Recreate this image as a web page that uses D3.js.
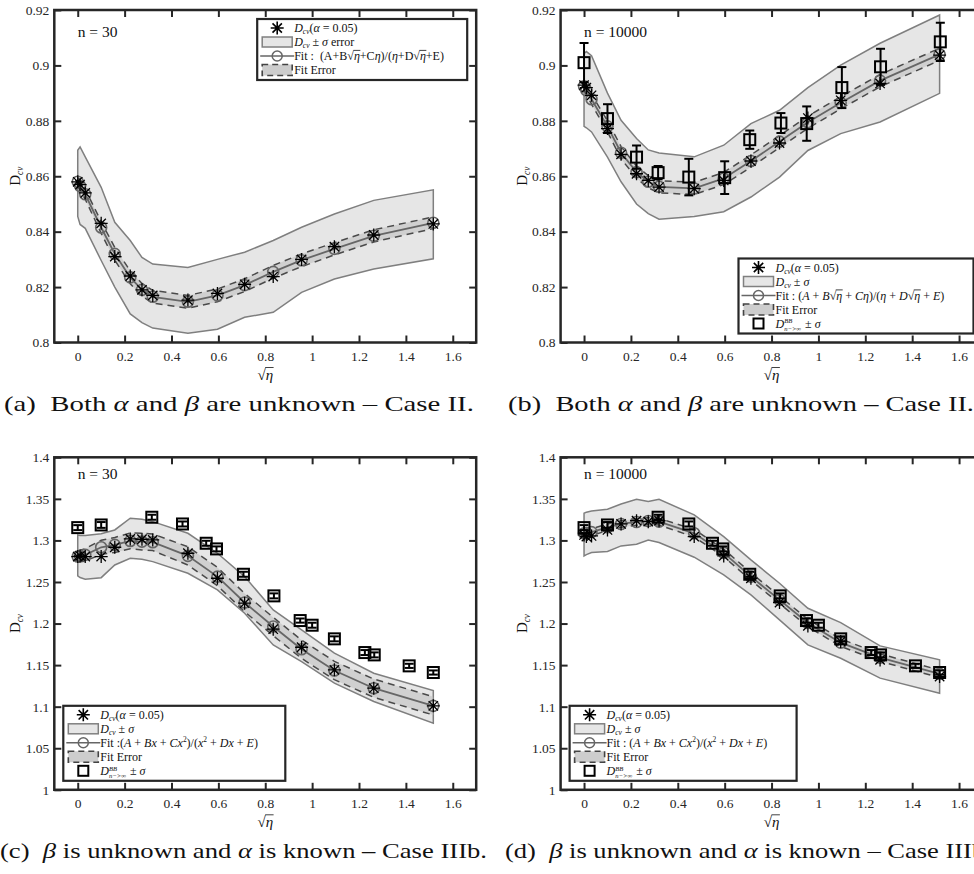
<!DOCTYPE html>
<html>
<head>
<meta charset="utf-8">
<script src="https://cdn.jsdelivr.net/npm/d3@7"></script>
<style>
  body { margin: 0; background: #fff; }
  svg { display: block; }
  text { font-family: "Liberation Serif", "Times New Roman", serif; white-space: pre; fill: #111; }
</style>
</head>
<body>
<div id="wrapper"></div>
<script>
// sqrt(eta) positions of the D_cv points and of the fit
const sqrtEta = [0, 0.01, 0.032, 0.1, 0.158, 0.224, 0.274, 0.32, 0.47, 0.596, 0.712, 0.834, 0.955, 1.095, 1.263, 1.517]
const xTicks = [0, 0.2, 0.4, 0.6, 0.8, 1, 1.2, 1.4, 1.6]
const yTicksTop = [0.8, 0.82, 0.84, 0.86, 0.88, 0.9, 0.92]
const yTicksBottom = [1, 1.05, 1.1, 1.15, 1.2, 1.25, 1.3, 1.35, 1.4]

// (a) Case II, n = 30
const dcvA = [0.858, 0.857, 0.854, 0.843, 0.831, 0.824, 0.819, 0.817, 0.8153, 0.8177, 0.821, 0.8238, 0.830, 0.8346, 0.8388, 0.8428]
const fitA = [0.858, 0.8565, 0.8535, 0.8415, 0.832, 0.8235, 0.819, 0.8165, 0.8147, 0.817, 0.8207, 0.8255, 0.8297, 0.8338, 0.8385, 0.8432]
const fitErrA = [0.0015, 0.0016, 0.0018, 0.0021, 0.0023, 0.0023, 0.0023, 0.0023, 0.0023, 0.0023, 0.0023, 0.0023, 0.0023, 0.0022, 0.0022, 0.0021]
const bandLoA = [0.8455, 0.8426, 0.8412, 0.8296, 0.820, 0.8103, 0.8072, 0.8052, 0.8033, 0.8048, 0.8091, 0.8109, 0.8181, 0.8229, 0.8265, 0.8302]
const bandHiA = [0.8694, 0.8706, 0.867, 0.856, 0.8434, 0.8368, 0.8307, 0.8283, 0.8271, 0.830, 0.8326, 0.8368, 0.8416, 0.8464, 0.8513, 0.8551]

// (b) Case II, n = 10000
const dcvB = [0.8929, 0.892, 0.8892, 0.8772, 0.8679, 0.8609, 0.8585, 0.8561, 0.8555, 0.8585, 0.8655, 0.872, 0.881, 0.8874, 0.8935, 0.9037]
const fitB = [0.8925, 0.891, 0.8878, 0.878, 0.8685, 0.8615, 0.858, 0.8562, 0.8556, 0.8592, 0.8655, 0.8725, 0.8795, 0.8865, 0.8945, 0.904]
const fitErrB = [0.0015, 0.0016, 0.0018, 0.002, 0.0022, 0.0022, 0.0022, 0.0022, 0.0022, 0.0022, 0.0022, 0.0022, 0.0022, 0.0022, 0.0022, 0.0022]
const bandLoB = [0.878, 0.8775, 0.876, 0.8669, 0.858, 0.85, 0.8465, 0.8445, 0.8455, 0.8472, 0.8525, 0.8597, 0.8693, 0.8754, 0.8796, 0.8899]
const bandHiB = [0.9043, 0.905, 0.9035, 0.89, 0.8802, 0.8736, 0.8695, 0.8684, 0.867, 0.8712, 0.879, 0.8838, 0.892, 0.9001, 0.908, 0.9182]
const bbXB = [0, 0.1, 0.224, 0.316, 0.447, 0.6, 0.707, 0.84, 0.95, 1.1, 1.265, 1.52]
const bbYB = [0.901, 0.8808, 0.8669, 0.8613, 0.8597, 0.8595, 0.8732, 0.8792, 0.879, 0.892, 0.8995, 0.9085]
const bbSdB = [0.0071, 0.0052, 0.0042, 0.0024, 0.0066, 0.0059, 0.0033, 0.0036, 0.0062, 0.0074, 0.0065, 0.0069]

// (c) Case IIIb, n = 30
const dcvC = [1.2806, 1.2814, 1.2806, 1.2806, 1.2918, 1.3018, 1.3014, 1.3006, 1.2846, 1.2545, 1.2245, 1.1932, 1.1715, 1.1443, 1.1222, 1.101]
const fitC = [1.2806, 1.2812, 1.2826, 1.2918, 1.2946, 1.2994, 1.2986, 1.2978, 1.2814, 1.2565, 1.2253, 1.1964, 1.1691, 1.1435, 1.1222, 1.101]
const fitErrC = [0.007, 0.007, 0.0075, 0.0085, 0.009, 0.0095, 0.01, 0.01, 0.011, 0.011, 0.011, 0.011, 0.011, 0.011, 0.011, 0.011]
const bandLoC = [1.2573, 1.2553, 1.2533, 1.2552, 1.2705, 1.2786, 1.2774, 1.2745, 1.2605, 1.2405, 1.2124, 1.1743, 1.1543, 1.1283, 1.1062, 1.0802]
const bandHiC = [1.3066, 1.306, 1.3058, 1.308, 1.3126, 1.3267, 1.3255, 1.3226, 1.3086, 1.2846, 1.2565, 1.2164, 1.1924, 1.1643, 1.1403, 1.1194]

// (d) Case IIIb, n = 10000
const dcvD = [1.3066, 1.3046, 1.3054, 1.3126, 1.3198, 1.3238, 1.3226, 1.3238, 1.3046, 1.2814, 1.2545, 1.2253, 1.1972, 1.1784, 1.1563, 1.1363]
const fitD = [1.3086, 1.309, 1.31, 1.3158, 1.3198, 1.3222, 1.3234, 1.3226, 1.3086, 1.285, 1.2565, 1.2285, 1.2006, 1.177, 1.159, 1.1395]
const fitErrD = [0.004, 0.004, 0.004, 0.004, 0.004, 0.004, 0.004, 0.004, 0.0045, 0.0045, 0.0045, 0.0045, 0.0045, 0.0045, 0.0045, 0.0045]
const bandLoD = [1.2814, 1.283, 1.2854, 1.2866, 1.2934, 1.2954, 1.3006, 1.2974, 1.2798, 1.2585, 1.2345, 1.2044, 1.1743, 1.1583, 1.1343, 1.1162]
const bandHiD = [1.3327, 1.334, 1.3355, 1.3375, 1.3439, 1.3495, 1.3467, 1.3495, 1.3307, 1.3046, 1.2766, 1.2485, 1.2184, 1.2012, 1.1731, 1.1563]

// D^BB (n -> inf) used in (c) and (d)
const bbX = [0, 0.1, 0.316, 0.447, 0.548, 0.592, 0.707, 0.837, 0.949, 1.0, 1.095, 1.225, 1.265, 1.414, 1.517]
const bbY = [1.3154, 1.3186, 1.3279, 1.3198, 1.2966, 1.2898, 1.2593, 1.2333, 1.2036, 1.198, 1.1816, 1.1651, 1.1623, 1.1491, 1.1411]
const bbSd = [0.003, 0.0035, 0.003, 0.003, 0.003, 0.003, 0.003, 0.003, 0.0025, 0.003, 0.003, 0.003, 0.003, 0.0025, 0.0025]

// pedaços de texto "rico"
const T = t => ({ t })
const I = t => ({ t, it: true })
const S = t => ({ t, it: true, sub: true })
const P = t => ({ t, sup: true })
const RB = t => ({ t, it: true, bar: true })
const K = (a, b) => ({ stack: [a, b] })

const dcvLabel = [I("D"), S("cv"), T("("), I("α"), T(" = 0.05)")]
const bandLabelA = [I("D"), S("cv"), T(" ± "), I("σ"), T(" error")]
const bandLabel = [I("D"), S("cv"), T(" ± "), I("σ")]
const fitLabelA = [T("Fit :  (A+B"), T("√"), RB("η"), T("+C"), I("η"), T(")/("), I("η"), T("+D"), T("√"), RB("η"), T("+E)")]
const fitLabelB = [T("Fit : ("), I("A"), T(" + "), I("B"), T("√"), RB("η"), T(" + "), I("Cη"), T(")/("), I("η"), T(" + "), I("D"), T("√"), RB("η"), T(" + "), I("E"), T(")")]
const fitLabelC = [T("Fit :("), I("A"), T(" + "), I("Bx"), T(" + "), I("Cx"), P("2"), T(")/("), I("x"), P("2"), T(" + "), I("Dx"), T(" + "), I("E"), T(")")]
const fitLabelD = [T("Fit : ("), I("A"), T(" + "), I("Bx"), T(" + "), I("Cx"), P("2"), T(")/("), I("x"), P("2"), T(" + "), I("Dx"), T(" + "), I("E"), T(")")]
const fitErrLabel = [T("Fit Error")]
const bbLabel = [I("D"), K("BB", "n−>∞"), T(" ± "), I("σ")]

const capA = [T("(a)  Both "), I("α"), T(" and "), I("β"), T(" are unknown – Case II.")]
const capB = [T("(b)  Both "), I("α"), T(" and "), I("β"), T(" are unknown – Case II.")]
const capC = [T("(c)  "), I("β"), T(" is unknown and "), I("α"), T(" is known – Case IIIb.")]
const capD = [T("(d)  "), I("β"), T(" is unknown and "), I("α"), T(" is known – Case IIIb.")]

const svg = d3.select("#wrapper").append("svg").attr("width", 974).attr("height", 874)

// escreve os pedaços um atrás do outro e devolve a largura total
function rich(g, runs, size) {
    let x = 0
    runs.forEach(r => {
        if (r.stack) {
            const fs = size * 0.55
            const a = g.append("text").attr("x", x).attr("y", -size * 0.35).attr("font-size", fs).attr("font-style", "italic").text(r.stack[0])
            const b = g.append("text").attr("x", x).attr("y", size * 0.3).attr("font-size", fs).attr("font-style", "italic").text(r.stack[1])
            x += Math.max(a.node().getComputedTextLength(), b.node().getComputedTextLength()) + 1
            return
        }
        const fs = (r.sub || r.sup) ? size * 0.62 : size
        const dy = r.sub ? size * 0.2 : r.sup ? -size * 0.4 : 0
        const t = g.append("text").attr("x", x).attr("y", dy).attr("font-size", fs)
            .attr("font-style", r.it ? "italic" : "normal").text(r.t)
        const w = t.node().getComputedTextLength()
        if (r.bar) {
            g.append("line").attr("x1", x - 0.5).attr("x2", x + w + 0.5)
                .attr("y1", -size * 0.8).attr("y2", -size * 0.8)
                .attr("stroke", "#111").attr("stroke-width", 0.8)
        }
        x += w
    })
    return x
}

function asterisk(r) {
    const d = r * 0.72
    return `M${-r},0L${r},0M0,${-r}L0,${r}M${-d},${-d}L${d},${d}M${-d},${d}L${d},${-d}`
}

function legendIcon(g, kind, cx, cy) {
    if (kind === "star") {
        g.append("path").attr("d", asterisk(6.5)).attr("transform", `translate(${cx},${cy})`)
            .attr("stroke", "#000").attr("stroke-width", 1.6)
    } else if (kind === "band") {
        g.append("rect").attr("x", cx - 15).attr("y", cy - 5).attr("width", 30).attr("height", 10)
            .attr("fill", "#e6e6e6").attr("stroke", "#808080").attr("stroke-width", 1.5)
    } else if (kind === "fit") {
        g.append("line").attr("x1", cx - 17).attr("x2", cx + 17).attr("y1", cy).attr("y2", cy)
            .attr("stroke", "#666").attr("stroke-width", 1.5)
        g.append("circle").attr("cx", cx).attr("cy", cy).attr("r", 5)
            .attr("fill", "none").attr("stroke", "#666").attr("stroke-width", 1.5)
    } else if (kind === "fitErr") {
        g.append("rect").attr("x", cx - 15).attr("y", cy - 5.5).attr("width", 30).attr("height", 11)
            .attr("fill", "#cdcdcd").attr("stroke", "#444").attr("stroke-width", 1.6).attr("stroke-dasharray", "6,4")
    } else if (kind === "square") {
        g.append("rect").attr("x", cx - 5).attr("y", cy - 5).attr("width", 10).attr("height", 10)
            .attr("fill", "none").attr("stroke", "#000").attr("stroke-width", 2)
    }
}

function drawPanel(p) {
    const width = 421.9, height = 332.5
    const x = d3.scaleLinear().domain([-0.1, 1.7]).range([p.left, p.left + width])
    const y = d3.scaleLinear().domain(p.yDomain).range([p.top + height, p.top])
    const bounds = svg.append("g")

    // faixa D_cv +- sigma
    const area = d3.area().x(d => x(d[0])).y0(d => y(d[1])).y1(d => y(d[2]))
    bounds.append("path").datum(d3.zip(sqrtEta, p.bandLo, p.bandHi)).attr("d", area)
        .attr("fill", "#e6e6e6").attr("stroke", "#7f7f7f").attr("stroke-width", 1.5)

    // erro do ajuste
    const lo = p.fit.map((v, i) => v - p.fitErr[i])
    const hi = p.fit.map((v, i) => v + p.fitErr[i])
    bounds.append("path").datum(d3.zip(sqrtEta, lo, hi)).attr("d", area)
        .attr("fill", "#bdbdbd").attr("fill-opacity", 0.55)
    const line = d3.line().x(d => x(d[0])).y(d => y(d[1]))
    ;[lo, hi].forEach(arr => {
        bounds.append("path").datum(d3.zip(sqrtEta, arr)).attr("d", line)
            .attr("fill", "none").attr("stroke", "#4a4a4a").attr("stroke-width", 1.5).attr("stroke-dasharray", "7,5")
    })

    // ajuste
    bounds.append("path").datum(d3.zip(sqrtEta, p.fit)).attr("d", line)
        .attr("fill", "none").attr("stroke", "#666").attr("stroke-width", 1.8)
    bounds.selectAll(null).data(d3.zip(sqrtEta, p.fit)).join("circle")
        .attr("cx", d => x(d[0])).attr("cy", d => y(d[1])).attr("r", 5.5)
        .attr("fill", "none").attr("stroke", "#666").attr("stroke-width", 1.6)

    // D_cv
    bounds.selectAll(null).data(d3.zip(sqrtEta, p.dcv)).join("path")
        .attr("d", asterisk(6.5)).attr("transform", d => `translate(${x(d[0])},${y(d[1])})`)
        .attr("stroke", "#000").attr("stroke-width", 1.3)

    // D^BB com barras de erro
    if (p.bbX) {
        const bb = d3.zip(p.bbX, p.bbY, p.bbSd)
        const eb = bounds.selectAll(null).data(bb).join("g").attr("stroke", "#000").attr("stroke-width", 2).attr("fill", "none")
        eb.append("line").attr("x1", d => x(d[0])).attr("x2", d => x(d[0]))
            .attr("y1", d => y(d[1] - d[2])).attr("y2", d => y(d[1] + d[2]))
        eb.append("line").attr("x1", d => x(d[0]) - 4.5).attr("x2", d => x(d[0]) + 4.5)
            .attr("y1", d => y(d[1] - d[2])).attr("y2", d => y(d[1] - d[2]))
        eb.append("line").attr("x1", d => x(d[0]) - 4.5).attr("x2", d => x(d[0]) + 4.5)
            .attr("y1", d => y(d[1] + d[2])).attr("y2", d => y(d[1] + d[2]))
        eb.append("rect").attr("x", d => x(d[0]) - 5.5).attr("y", d => y(d[1]) - 5.5)
            .attr("width", 11).attr("height", 11)
    }

    // n = ...
    bounds.append("text").attr("x", x(0)).attr("y", y(p.nY) + 5).attr("font-size", 15.5).text(p.nLabel)

    // eixos (ticks para dentro, nos quatro lados)
    const bottom = p.top + height, right = p.left + width
    const axes = [
        [d3.axisBottom(x).tickValues(xTicks).tickFormat(d3.format("~g")).tickPadding(9), `translate(0,${bottom})`],
        [d3.axisTop(x).tickValues(xTicks).tickFormat(""), `translate(0,${p.top})`],
        [d3.axisLeft(y).tickValues(p.yTicks).tickFormat(d3.format("~g")).tickPadding(5), `translate(${p.left},0)`],
        [d3.axisRight(y).tickValues(p.yTicks).tickFormat(""), `translate(${right},0)`],
    ]
    axes.forEach(([gen, tr]) => {
        const a = bounds.append("g").attr("transform", tr).call(gen.tickSizeInner(-7).tickSizeOuter(0))
        a.select(".domain").remove()
        a.selectAll(".tick line").attr("stroke", "#262626").attr("stroke-width", 2)
        a.selectAll("text").attr("font-size", 13.5).style("fill", "#262626")
    })

    // legenda
    const lg = bounds.append("g")
    const lx = p.legendSide === "right" ? right - 9 - p.legendW : p.left + 9
    const rows = p.legendRows
    const lh = rows.length * 14 + 5
    const ly = p.legendTop ? p.top + 9 : bottom - 9 - lh
    lg.append("rect").attr("x", lx).attr("y", ly).attr("width", p.legendW).attr("height", lh)
        .attr("fill", "#fff").attr("stroke", "#262626").attr("stroke-width", 2.2)
    rows.forEach((r, i) => {
        const cy = ly + 9 + i * 14
        legendIcon(lg, r[0], lx + 20, cy)
        const tg = lg.append("g").attr("transform", `translate(${lx + 37},${cy + 4})`)
        rich(tg, r[1], 12)
    })

    // moldura
    bounds.append("rect").attr("x", p.left).attr("y", p.top).attr("width", width).attr("height", height)
        .attr("fill", "none").attr("stroke", "#262626").attr("stroke-width", 2.5)

    // rótulos dos eixos
    const xl = bounds.append("g")
    const xw = rich(xl, [T("√"), RB("η")], 15)
    xl.attr("transform", `translate(${(p.left + right) / 2 - xw / 2},${bottom + 37})`)
    const yl = bounds.append("g")
    const yw = rich(yl, [T("D"), S("cv")], 15)
    yl.attr("transform", `translate(${p.left - 34},${p.top + height / 2}) rotate(-90) translate(${-yw / 2},0)`)

    // legenda da figura
    const cg = svg.append("g")
    const cw = rich(cg, p.caption, 21)
    cg.attr("transform", `translate(${p.capX},${bottom + 68}) scale(${p.capW / cw},1)`)
}

const panels = [
    { left: 54.3, top: 10, yDomain: [0.8, 0.92], yTicks: yTicksTop, dcv: dcvA, fit: fitA, fitErr: fitErrA,
      bandLo: bandLoA, bandHi: bandHiA, nLabel: "n = 30", nY: 0.912,
      legendSide: "right", legendTop: true, legendW: 210,
      legendRows: [["star", dcvLabel], ["band", bandLabelA], ["fit", fitLabelA], ["fitErr", fitErrLabel]],
      caption: capA, capX: 4, capW: 470 },
    { left: 560.6, top: 10, yDomain: [0.8, 0.92], yTicks: yTicksTop, dcv: dcvB, fit: fitB, fitErr: fitErrB,
      bandLo: bandLoB, bandHi: bandHiB, bbX: bbXB, bbY: bbYB, bbSd: bbSdB, nLabel: "n = 10000", nY: 0.912,
      legendSide: "right", legendTop: false, legendW: 235,
      legendRows: [["star", dcvLabel], ["band", bandLabel], ["fit", fitLabelB], ["fitErr", fitErrLabel], ["square", bbLabel]],
      caption: capB, capX: 508, capW: 466 },
    { left: 54.3, top: 457.3, yDomain: [1, 1.4], yTicks: yTicksBottom, dcv: dcvC, fit: fitC, fitErr: fitErrC,
      bandLo: bandLoC, bandHi: bandHiC, bbX: bbX, bbY: bbY, bbSd: bbSd, nLabel: "n = 30", nY: 1.38,
      legendSide: "left", legendTop: false, legendW: 222,
      legendRows: [["star", dcvLabel], ["band", bandLabel], ["fit", fitLabelC], ["fitErr", fitErrLabel], ["square", bbLabel]],
      caption: capC, capX: 0, capW: 487 },
    { left: 560.6, top: 457.3, yDomain: [1, 1.4], yTicks: yTicksBottom, dcv: dcvD, fit: fitD, fitErr: fitErrD,
      bandLo: bandLoD, bandHi: bandHiD, bbX: bbX, bbY: bbY, bbSd: bbSd, nLabel: "n = 10000", nY: 1.38,
      legendSide: "left", legendTop: false, legendW: 227,
      legendRows: [["star", dcvLabel], ["band", bandLabel], ["fit", fitLabelD], ["fitErr", fitErrLabel], ["square", bbLabel]],
      caption: capD, capX: 505, capW: 487 },
]

panels.forEach(drawPanel)
</script>
</body>
</html>
